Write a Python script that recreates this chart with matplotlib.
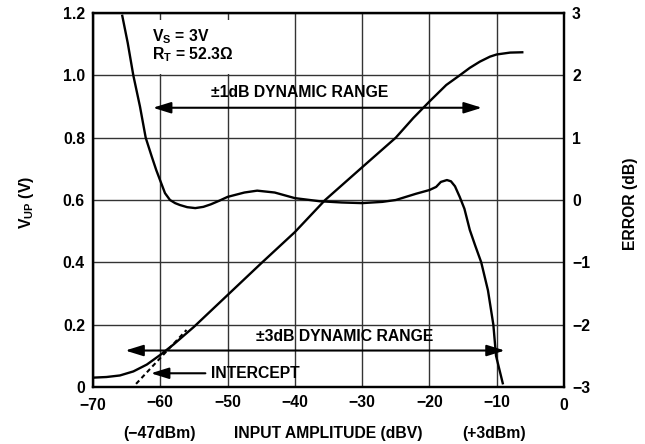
import matplotlib
matplotlib.use("Agg")
import matplotlib.pyplot as plt
from matplotlib.patches import Rectangle
import matplotlib.transforms as mtransforms
from matplotlib import font_manager as fm

# pick a sans family that really has a bold face
BOLD_FAM = 'DejaVu Sans'
for fam in ['Liberation Sans', 'Arimo', 'Roboto', 'Noto Sans', 'Inter', 'Open Sans', 'Lato']:
    try:
        path = fm.findfont(fm.FontProperties(family=fam, weight='bold'),
                           fallback_to_default=False)
        f = fm.get_font(path)
        if 'bold' in (f.style_name or '').lower() or 'bold' in path.lower():
            BOLD_FAM = fam
            break
    except Exception:
        pass

plt.rcParams['font.family'] = [BOLD_FAM, 'DejaVu Sans']
plt.rcParams['font.weight'] = 'bold'
plt.rcParams['mathtext.fontset'] = 'custom'
plt.rcParams['mathtext.rm'] = BOLD_FAM + ':bold'
plt.rcParams['mathtext.it'] = BOLD_FAM + ':bold'
plt.rcParams['mathtext.bf'] = BOLD_FAM + ':bold'

# ---- data ----
vup_x = [-70, -68, -66, -64, -62, -60, -58, -55, -50, -45, -40, -35.5, -30, -25,
         -22.4, -20, -17.5, -15.5, -14, -12.5, -11, -10, -8, -6.2]
vup_y = [0.030, 0.032, 0.037, 0.050, 0.072, 0.103, 0.137, 0.193, 0.295, 0.397,
         0.497, 0.600, 0.705, 0.800, 0.863, 0.916, 0.969, 1.000, 1.024, 1.044,
         1.060, 1.067, 1.073, 1.074]

err_x = [-65.65, -64.84, -64.01, -63.02, -62.17, -61.28, -60.6, -60.04, -59.3,
         -58.56, -57.8, -57.1, -56.0, -54.8, -53.6, -52.5, -51.2, -50, -47.5,
         -45.6, -43, -40, -36.3, -33, -30, -27, -25, -22, -20, -19, -18.3, -17.4,
         -16.8, -16.2, -15.5, -14.8, -14.0, -13.2, -12.3, -11.3, -10.5, -10.1, -9.1]
err_y = [2.955, 2.52, 2.0, 1.5, 1.0, 0.70, 0.48, 0.32, 0.11, 0.0, -0.05, -0.08,
         -0.115, -0.13, -0.11, -0.07, -0.01, 0.05, 0.12, 0.15, 0.12, 0.03, -0.02,
         -0.04, -0.05, -0.03, 0.0, 0.10, 0.16, 0.21, 0.29, 0.32, 0.30, 0.22, 0.05,
         -0.14, -0.48, -0.73, -1.0, -1.45, -2.0, -2.5, -2.94]

intercept_x = [-63.6, -56.1]
intercept_y = [0.01, 0.183]

x_ticks = [-70, -60, -50, -40, -30, -20, -10, 0]
x_labels = ['\u221270', '\u221260', '\u221250', '\u221240', '\u221230', '\u221220',
            '\u221210', '0']
y_ticks = [0, 0.2, 0.4, 0.6, 0.8, 1.0, 1.2]
y_labels = ['0', '0.2', '0.4', '0.6', '0.8', '1.0', '1.2']
e_ticks = [-3, -2, -1, 0, 1, 2, 3]
e_labels = ['\u22123', '\u22122', '\u22121', '0', '1', '2', '3']

FS = 11.3
BW = 'bold'

fig = plt.figure(figsize=(6.45, 4.44), dpi=100)
ax = fig.add_axes([0.1442, 0.1284, 0.7302, 0.8423])
ax.set_xlim(-70, 0)
ax.set_ylim(0, 1.2)
ax.set_xticks(x_ticks)
ax.set_xticklabels(x_labels, fontweight=BW, fontsize=FS)
ax.set_yticks(y_ticks)
ax.set_yticklabels(y_labels, fontweight=BW, fontsize=FS)
ax.tick_params(axis='x', length=0, pad=6)
ax.tick_params(axis='y', length=0, pad=5.8)
ax.grid(True, color='#333333', lw=1.0)
for s in ax.spines.values():
    s.set_linewidth(1.6)

# white box behind the V_S/R_T note
ax.add_patch(Rectangle((-62.5, 1.004), 17.5, 0.174, facecolor='white',
                       edgecolor='none', zorder=1.8))

ax.plot(vup_x, vup_y, color='black', lw=1.7, zorder=3, solid_joinstyle='round')
ax.plot(intercept_x, intercept_y, color='black', lw=1.5, ls=(0, (2.2, 1.6)), zorder=3)

ax2 = ax.twinx()
ax2.set_ylim(-3, 3)
ax2.set_yticks(e_ticks)
ax2.set_yticklabels(e_labels, fontweight=BW, fontsize=FS)
ax2.tick_params(length=0, pad=5.8)
for s in ax2.spines.values():
    s.set_linewidth(1.6)
ax2.plot(err_x, err_y, color='black', lw=1.7, zorder=3, solid_joinstyle='round')

# arrows
ap2 = dict(arrowstyle='<|-|>,head_length=0.9,head_width=0.28', color='black',
           lw=1.5, shrinkA=0, shrinkB=0, mutation_scale=12)
ax.annotate('', xy=(-61.1, 0.896), xytext=(-12.2, 0.896), arrowprops=ap2, zorder=4)
ax.annotate('', xy=(-65.2, 0.117), xytext=(-8.8, 0.117), arrowprops=ap2, zorder=4)
ap1 = dict(arrowstyle='-|>,head_length=0.9,head_width=0.28', color='black',
           lw=1.5, shrinkA=0, shrinkB=0, mutation_scale=12)
ax.annotate('', xy=(-61.4, 0.044), xytext=(-53.3, 0.044), arrowprops=ap1, zorder=4)

ax.text(-39.3, 0.944, '\u00b11dB DYNAMIC RANGE', ha='center', va='center',
        fontsize=FS, fontweight=BW)
ax.text(-32.6, 0.161, '\u00b13dB DYNAMIC RANGE', ha='center', va='center',
        fontsize=FS, fontweight=BW)
ax.text(-52.4, 0.044, 'INTERCEPT', ha='left', va='center', fontsize=FS, fontweight=BW)
note = r'$\mathrm{V_S}$ = 3V' + '\n' + r'$\mathrm{R_T}$ = 52.3' + '\u03a9'
ax.text(-61.2, 1.094, note, ha='left', va='center', fontsize=FS, fontweight=BW,
        linespacing=0.95, zorder=5)

# axis labels
fig.text(27 / 645, 1 - 202 / 444, r'$\mathrm{V_{UP}}$ (V)', rotation=90,
         ha='center', va='center', fontsize=FS, fontweight=BW)
fig.text(630 / 645, 1 - 204 / 444, 'ERROR (dB)', rotation=90,
         ha='center', va='center', fontsize=FS, fontweight=BW)
fig.text(160 / 645, 1 - 433 / 444, '(\u221247dBm)', ha='center', va='center',
         fontsize=FS, fontweight=BW)
fig.text(328 / 645, 1 - 433 / 444, 'INPUT AMPLITUDE (dBV)', ha='center', va='center',
         fontsize=FS, fontweight=BW)
fig.text(494 / 645, 1 - 433 / 444, '(+3dBm)', ha='center', va='center',
         fontsize=FS, fontweight=BW)

# -70 and 0 labels sit slightly lower
labs = ax.get_xticklabels()
for i in (0, len(labs) - 1):
    labs[i].set_transform(labs[i].get_transform() +
                          mtransforms.ScaledTranslation(0, -3 / 100, fig.dpi_scale_trans))

fig.savefig('out.png', dpi=100)
